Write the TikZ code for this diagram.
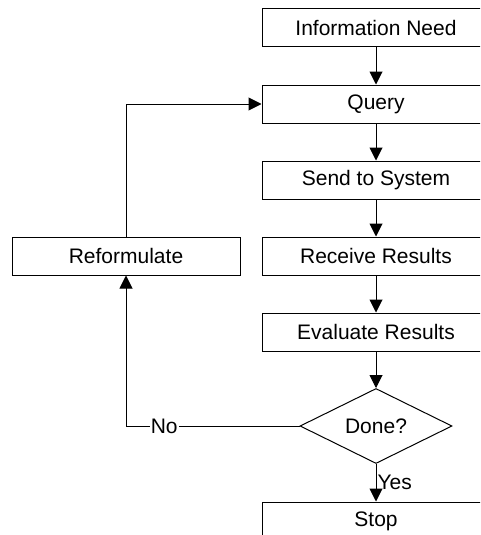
\documentclass[tikz,border=0pt]{standalone}
\usepackage{fontspec}
\setmainfont{Liberation Sans}
\usetikzlibrary{shapes.geometric,arrows.meta}

\tikzset{
	stepbox/.style={draw, line width=1pt, minimum width=228pt, minimum height=38pt, inner sep=0pt},
	decision/.style={draw, diamond, line width=1pt, minimum width=152pt, minimum height=75pt, inner sep=0pt, aspect=2},
	flow/.style={line width=1pt, -{Triangle[length=13pt,width=13pt]}}
}

\begin{document}
\begin{tikzpicture}[x=1pt, y=-1pt, font=\fontsize{21}{25}\selectfont]
	\useasboundingbox (0,0) rectangle (480,535);
	\clip (0,0) rectangle (480,535);

	% Draw the main column of steps
	\node (need) at (376,28) [stepbox] {Information Need};
	\node (query) at (376,104) [stepbox] {Query};
	\node (send) at (376,180) [stepbox] {Send to System};
	\node (receive) at (376,256) [stepbox] {Receive Results};
	\node (evaluate) at (376,332) [stepbox] {Evaluate Results};
	\node (done) at (376,426) [decision] {Done?};
	\node (stop) at (376,521) [stepbox] {Stop};

	% Then the side step
	\node (reform) at (126,256) [stepbox] {Reformulate};
	\coordinate (nocorner) at (126,426);
	\coordinate (loopcorner) at (126,104);

	% Now add the arrows
	\draw [flow] (need) -- (query);
	\draw [flow] (query) -- (send);
	\draw [flow] (send) -- (receive);
	\draw [flow] (receive) -- (evaluate);
	\draw [flow] (evaluate) -- (done);
	\draw [flow] (done) -- node [anchor=west, inner sep=1pt] {Yes} (stop);
	\draw [flow] (done.west) -- node [pos=0.78, fill=white, inner sep=1pt] {No} (nocorner) -- (reform);
	\draw [flow] (reform) -- (loopcorner) -- (query);
\end{tikzpicture}
\end{document}
